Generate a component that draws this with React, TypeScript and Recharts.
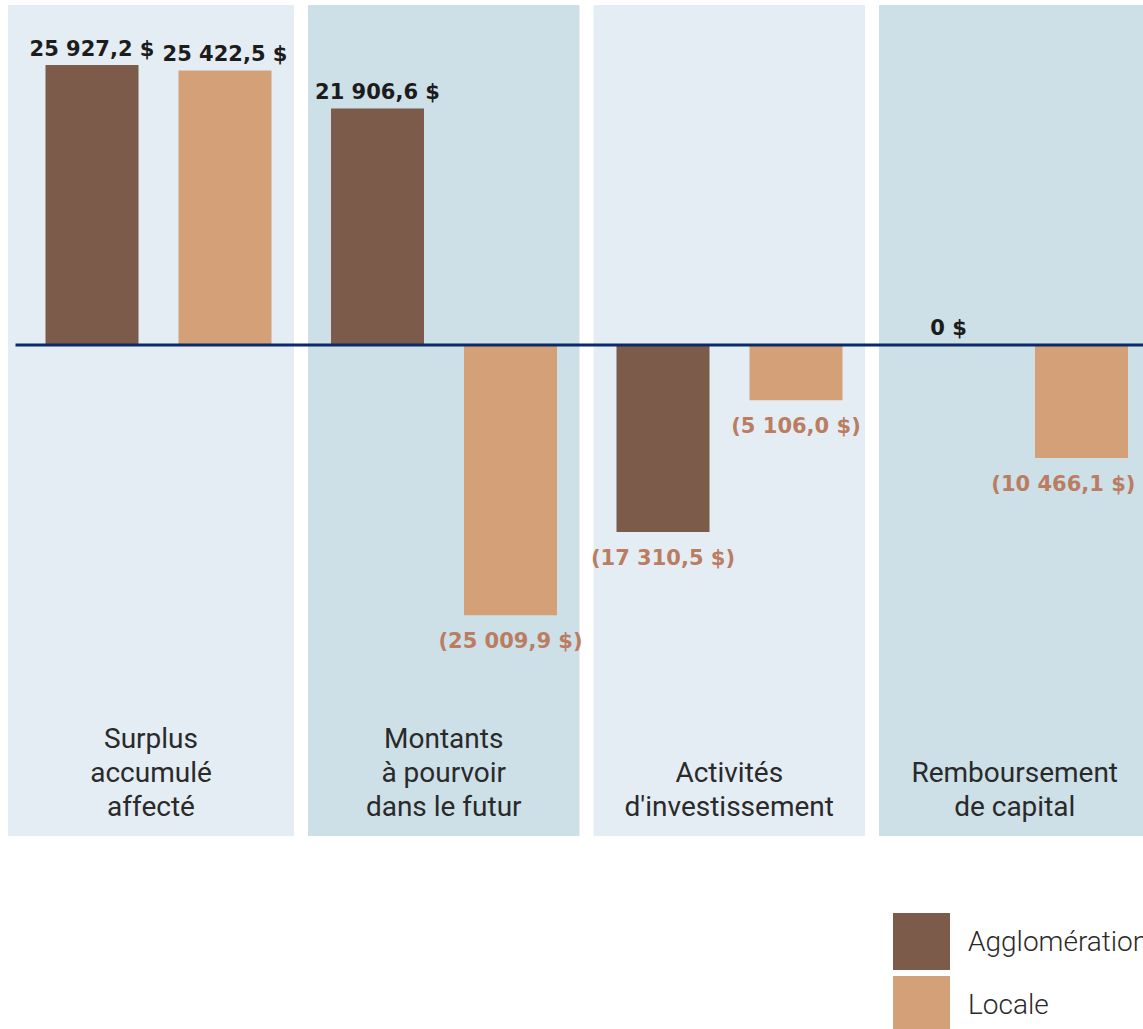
import React from 'react';
import {
  BarChart,
  Bar,
  XAxis,
  YAxis,
  ReferenceArea,
  ReferenceLine,
  LabelList,
  Legend,
} from 'recharts';

// Categories, each split into the lines shown at the bottom of its panel
const categories = [
  'Surplus accumulé affecté',
  'Montants à pourvoir dans le futur',
  'Activités d\'investissement',
  'Remboursement de capital',
];
const categoryLines = [
  ['Surplus', 'accumulé', 'affecté'],
  ['Montants', 'à pourvoir', 'dans le futur'],
  ['Activités', 'd\'investissement'],
  ['Remboursement', 'de capital'],
];

// Values in thousands of dollars
const agglomeration = [25927.2, 21906.6, -17310.5, 0];
const locale = [25422.5, -25009.9, -5106.0, -10466.1];

const seriesNames = ['Agglomération', 'Locale'];
const seriesColors = ['#7d5b4b', '#d3a077'];
const panelColors = ['#e4edf4', '#cddfe7'];

const data = categories.map((name, i) => ({
  name,
  agglomeration: agglomeration[i],
  locale: locale[i],
}));

const CHART_RIGHT_LIMIT = 1139;
const VALUE_FONT = 21;

const fmt = (v: number) => {
  const [intPart, dec] = Math.abs(v).toFixed(1).split('.');
  const grouped = intPart.replace(/\B(?=(\d{3})+(?!\d))/g, ' ');
  const s = v === 0 ? '0 $' : `${grouped},${dec} $`;
  return v < 0 ? `(${s})` : s;
};

const ValueLabel = (props: any) => {
  const { x, y, width, height, value } = props;
  const v = Number(value);
  const top = Math.min(y, y + height);
  const bottom = Math.max(y, y + height);
  const text = fmt(v);
  // keep the label inside the visible area near the right edge
  const approxWidth = text.length * 0.6 * VALUE_FONT;
  let cx = x + width / 2;
  if (cx + approxWidth / 2 > CHART_RIGHT_LIMIT) cx = CHART_RIGHT_LIMIT - approxWidth / 2;
  const neg = v < 0;
  return (
    <text
      x={cx}
      y={neg ? bottom + 33 : top - 9}
      textAnchor="middle"
      fontFamily="'DejaVu Sans', sans-serif"
      fontWeight="bold"
      fontSize={VALUE_FONT}
      fill={neg ? '#bb7d62' : '#1c1c1c'}
    >
      {text}
    </text>
  );
};

const PANEL_INSET = 7;

const makePanel = (color: string, extendLeft: number) => (props: any) => {
  const { x, y, width, height } = props;
  const left = x + PANEL_INSET - extendLeft;
  const right = x + width - PANEL_INSET;
  return <rect x={left} y={y} width={right - left} height={height} fill={color} />;
};

const makePanelLabel = (lines: string[], extendLeft: number) => (props: any) => {
  const vb = props.viewBox || {};
  const left = vb.x + PANEL_INSET - extendLeft;
  const right = vb.x + vb.width - PANEL_INSET;
  const cx = (left + right) / 2;
  const lastBaseline = vb.y + vb.height - 20;
  const lineHeight = 34;
  return (
    <text
      textAnchor="middle"
      fontFamily="Roboto, sans-serif"
      fontSize={28}
      fill="#2a2a2a"
    >
      {lines.map((line, i) => (
        <tspan key={i} x={cx} y={lastBaseline - (lines.length - 1 - i) * lineHeight}>
          {line}
        </tspan>
      ))}
    </text>
  );
};

const LegendContent = (props: any) => {
  const payload = props.payload || [];
  return (
    <div>
      {payload.map((item: any, i: number) => (
        <div
          key={i}
          style={{ display: 'flex', alignItems: 'center', height: 57, marginBottom: 6 }}
        >
          <div style={{ width: 57, height: 57, background: item.color, flex: 'none' }} />
          <span
            style={{
              marginLeft: 18,
              fontFamily: 'Roboto, sans-serif',
              fontWeight: 300,
              fontSize: 28,
              color: '#2a2a2a',
              whiteSpace: 'nowrap',
            }}
          >
            {item.value}
          </span>
        </div>
      ))}
    </div>
  );
};

export default function App() {
  return (
    <div
      style={{
        position: 'absolute',
        left: 0,
        top: 0,
        width: 1143,
        height: 1029,
        overflow: 'hidden',
        background: '#ffffff',
      }}
    >
      <BarChart
        width={1160}
        height={1029}
        data={data}
        margin={{ top: 5, right: 2.5, bottom: 193, left: 15.5 }}
        barSize={93}
        barGap={40}
      >
        <XAxis dataKey="name" type="category" hide />
        <YAxis type="number" domain={[-45460, 31480]} hide allowDataOverflow />
        {categories.map((c, i) => (
          <ReferenceArea
            key={c}
            x1={c}
            x2={c}
            ifOverflow="visible"
            shape={makePanel(panelColors[i % 2], i === 0 ? 14.5 : 0)}
            label={makePanelLabel(categoryLines[i], i === 0 ? 14.5 : 0)}
          />
        ))}
        <Bar
          dataKey="agglomeration"
          name={seriesNames[0]}
          fill={seriesColors[0]}
          minPointSize={1}
          isAnimationActive={false}
        >
          <LabelList dataKey="agglomeration" content={ValueLabel} />
        </Bar>
        <Bar
          dataKey="locale"
          name={seriesNames[1]}
          fill={seriesColors[1]}
          minPointSize={1}
          isAnimationActive={false}
        >
          <LabelList dataKey="locale" content={ValueLabel} />
        </Bar>
        <ReferenceLine y={0} stroke="#0b2a66" strokeWidth={3} ifOverflow="visible" />
        <Legend
          layout="vertical"
          align="center"
          verticalAlign="middle"
          wrapperStyle={{ position: 'absolute', left: 893, top: 913, width: 320, height: 120 }}
          content={LegendContent}
        />
      </BarChart>
    </div>
  );
}
